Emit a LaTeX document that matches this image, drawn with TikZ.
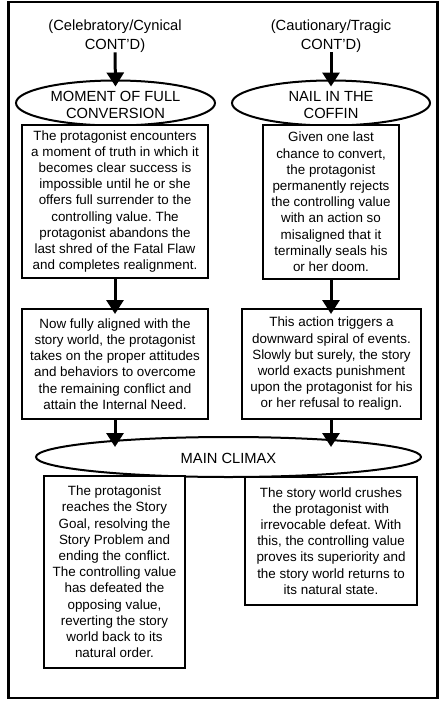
\documentclass[tikz,border=0pt]{standalone}
\usepackage{fontspec}
\setmainfont{Liberation Sans}
\usetikzlibrary{shapes.geometric,arrows.meta}
\frenchspacing
\tikzset{
  body/.style={draw, line width=2pt, fill=white, inner sep=0pt, align=center,
    font=\fontsize{13.4}{16.2}\selectfont},
  ellip/.style={draw, ellipse, line width=2pt, fill=white, inner sep=0pt},
  headtxt/.style={inner sep=0pt, align=center, font=\fontsize{14.7}{16.7}\selectfont},
  toptxt/.style={inner sep=0pt, align=center, font=\fontsize{14.7}{18.6}\selectfont},
  flow/.style={line width=3pt, -{Triangle[width=17pt,length=14pt]}}
}
\begin{document}
\begin{tikzpicture}[x=1pt,y=-1pt]
\useasboundingbox (0,0) rectangle (446,701);
\draw[line width=2.2pt] (8.5,2) rectangle (437.5,698);
% top labels
\node[toptxt] (tL) at (115,36) {(Celebratory/Cynical\\CONT'D)};
\node[toptxt] (tR) at (331,36) {(Cautionary/Tragic\\CONT'D)};
% ellipses
\node[ellip, minimum width=199pt, minimum height=45pt] (e1) at (115.5,103) {};
\node[headtxt] (e1t) at (115.5,105) {MOMENT OF FULL\\CONVERSION};
\node[ellip, minimum width=198pt, minimum height=45pt] (e2) at (331,103) {};
\node[headtxt] (e2t) at (331,105) {NAIL IN THE\\COFFIN};
\node[ellip, minimum width=385pt, minimum height=40pt] (e3) at (228.5,457) {};
\node[headtxt] (e3t) at (228.5,458) {MAIN CLIMAX};
% boxes
\node[body, minimum width=186pt, minimum height=153pt] (b1) at (115,201.5)
 {The protagonist encounters\\a moment of truth in which it\\becomes clear success is\\impossible until he or she\\offers full surrender to the\\controlling value. The\\protagonist abandons the\\last shred of the Fatal Flaw\\and completes realignment.};
\node[body, minimum width=136pt, minimum height=154pt] (b2) at (331,202)
 {Given one last\\chance to convert,\\the protagonist\\permanently rejects\\the controlling value\\with an action so\\misaligned that it\\terminally seals his\\or her doom.};
\node[body, minimum width=186pt, minimum height=110pt] (b3) at (115,364)
 {Now fully aligned with the\\story world, the protagonist\\takes on the proper attitudes\\and behaviors to overcome\\the remaining conflict and\\attain the Internal Need.};
\node[body, minimum width=179pt, minimum height=110pt] (b4) at (331.5,364)
 {This action triggers a\\downward spiral of events.\\Slowly but surely, the story\\world exacts punishment\\upon the protagonist for his\\or her refusal to realign.};
\node[body, minimum width=141pt, minimum height=192pt] (b5) at (114.5,572)
 {The protagonist\\reaches the Story\\Goal, resolving the\\Story Problem and\\ending the conflict.\\The controlling value\\has defeated the\\opposing value,\\reverting the story\\world back to its\\natural order.};
\node[body, minimum width=172pt, minimum height=128pt] (b6) at (331,541)
 {The story world crushes\\the protagonist with\\irrevocable defeat. With\\this, the controlling value\\proves its superiority and\\the story world returns to\\its natural state.};
% arrows
\draw[flow] (tL.south) -- ([yshift=-7pt]e1.north);
\draw[flow] (tR.south) -- ([yshift=-7pt]e2.north);
\draw[flow] (b1.south) -- ([yshift=-6pt]b3.north);
\draw[flow] (b2.south) -- ([yshift=-6pt]b4.north -| b2.south);
\draw[flow] (b3.south) -- ([yshift=-11pt]e3.north -| b3.south);
\draw[flow] (b4.south -| b2.south) -- ([yshift=-11pt]e3.north -| b2.south);
\end{tikzpicture}
\end{document}
